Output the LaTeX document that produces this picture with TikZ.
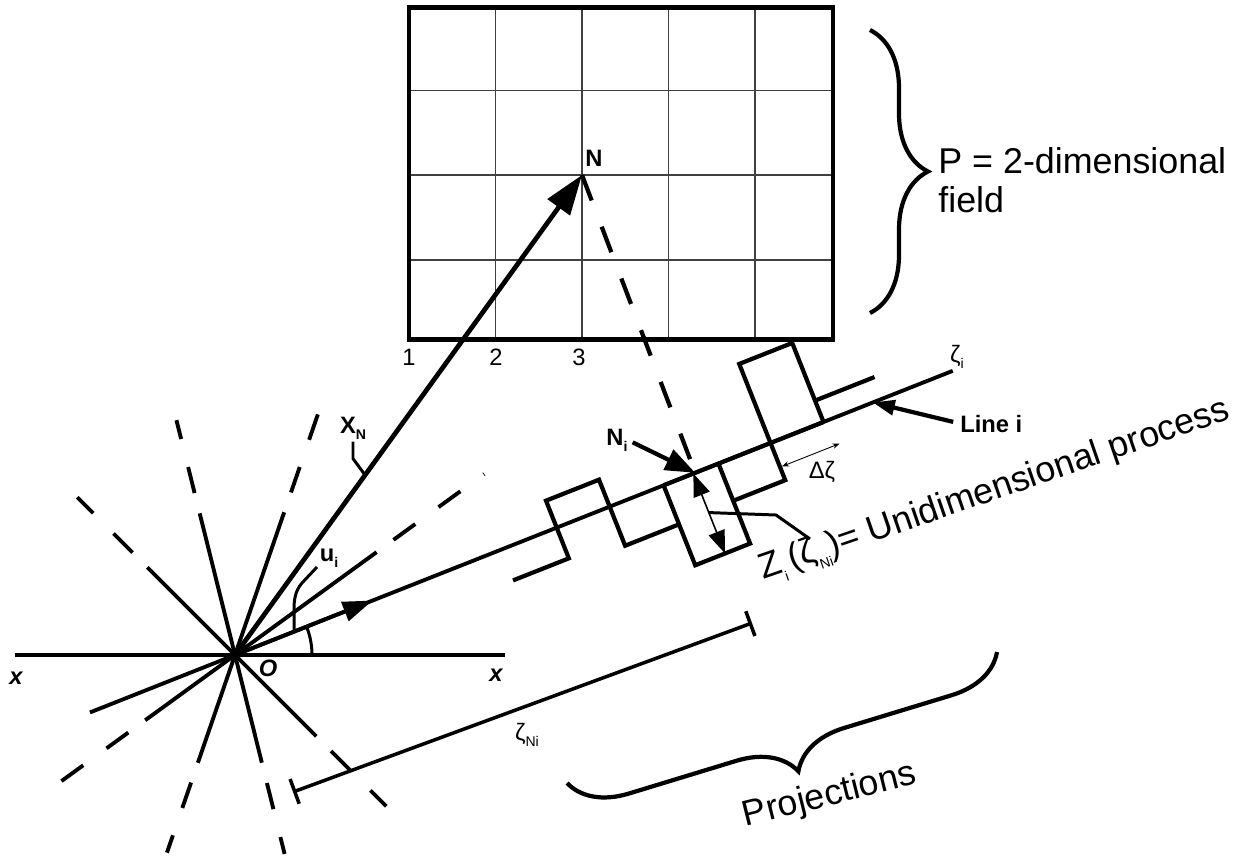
\documentclass[tikz,border=0pt]{standalone}
\usepackage{fontspec}
\setmainfont{Liberation Sans}
\usetikzlibrary{arrows.meta,decorations.pathreplacing,calc}
\newcommand{\bigsize}{\fontsize{20.4}{22}\selectfont}
\newcommand{\smallsize}{\fontsize{13.5}{15}\selectfont}
\newcommand{\lowsub}[1]{\raisebox{-0.5ex}{\fontsize{8}{9}\selectfont #1}}

\begin{document}
\begin{tikzpicture}[x=0.02cm, y=0.02cm,
    ray/.style={line width=2.2pt},
    raydash/.style={line width=2.2pt, dash pattern=on 15.3pt off 16.4pt, dash phase=19.8pt},
    stair/.style={line width=2.4pt, line join=miter},
    lbl/.style={inner sep=0pt, font=\smallsize},
    lblb/.style={inner sep=0pt, font=\smallsize\bfseries},
    lbli/.style={inner sep=0pt, font=\smallsize\bfseries\itshape},
    big/.style={inner sep=0pt, font=\bigsize}]
  \useasboundingbox (0,0) rectangle (1247,-856);
  % 2-dimensional field
  \foreach \gx in {495.5,582,668.5,755}
    \draw[line width=0.6pt, black!75] (\gx,-7.5) -- (\gx,-339.5);
  \foreach \gy in {90.7,175,260}
    \draw[line width=0.6pt, black!75] (409,-\gy) -- (833,-\gy);
  \draw[line width=2.4pt] (409,-7.5) rectangle (833,-339.5);
  \node[lbl] (c1) at (409,-357) {1};
  \node[lbl] (c2) at (496,-357) {2};
  \node[lbl] (c3) at (579,-357) {3};
  \coordinate (O) at (235,-655);
  \coordinate (N) at (582,-175);
  \node[lblb] (nlbl) at (594,-158) {N};
  \draw[line width=2.4pt, decorate, decoration={brace, amplitude=33pt}] (870,-30) -- (870,-313);
  \node[big, anchor=base west, align=left] (fieldlbl) at (938,-212) {P = 2-dimensional\\field};
  % lines through O
  \draw[ray] (15,-655) -- (505,-655);
  \node[lbli] (xl) at (16,-678) {x};
  \node[lbli] (xr) at (496,-675) {x};
  \node[lbli] (olbl) at (268,-668) {O};
  \foreach \ang/\rp/\rpe/\rn/\rne in {36/175/308/111/242, 71/151/259/114/209,
      104/146/242/111/205, 135/124/223/115/214} {
    \pgfmathsetmacro\bng{\ang+180}
    \draw[ray] ($(O)+(\bng:\rn)$) -- ($(O)+(\ang:\rp)$);
    \draw[raydash] ($(O)+(\ang:\rp)$) -- ($(O)+(\ang:\rpe)$);
    \draw[raydash] ($(O)+(\bng:\rn)$) -- ($(O)+(\bng:\rne)$);
  }
  % line i and the process
  \begin{scope}[shift={(O)}, rotate=21.6]
    \coordinate (linestart) at (-156,0);
    \coordinate (lineend) at (772,0);
    \coordinate (uarrow) at (148,0);
    \coordinate (uipt) at (63.5,0);
    \coordinate (Ni) at (495,0);
    \coordinate (lineipt) at (686,0);
    \coordinate (ztop) at (493,0);
    \coordinate (zbot) at (493,-86);
    \coordinate (zlead) at (493,-42);
    \coordinate (dzl) at (578,-26);
    \coordinate (dzr) at (640,-26);
    \draw[stair] (286,-33) -- (346,-33) -- (346,29) -- (403,29) -- (403,-42) -- (461,-42);
    \draw[stair] (461,0) -- (461,-86) -- (520,-86) -- (520,0);
    \draw[stair] (461,0) -- (633,0);
    \draw[stair] (520,-40) -- (576,-40) -- (576,85) -- (633,85) -- (633,0);
    \draw[stair] (633,23) -- (697,23);
  \end{scope}
  \draw[ray] (linestart) -- (lineend);
  \draw[ray, -{Triangle[length=17pt,width=11.3pt]}] (O) -- (uarrow);
  \node[lbl] (zetai) at (957,-357) {ζ\lowsub{i}};
  \draw[line width=1.7pt] ($(O)+(77,0)$) arc[start angle=0, end angle=21.6, radius=77];
  \node[lblb] (uilbl) at (329,-558) {u\lowsub{i}};
  \draw[line width=1.7pt] (317,-567) -- (302,-583) .. controls (295,-591) and (294,-600) .. (294,-610) -- (uipt);
  % vector to N and its projection
  \draw[line width=2.7pt, -{Triangle[length=22.7pt,width=15.3pt]}] (O) -- (N);
  \coordinate (xnpt) at ($(O)!0.375!(N)$);
  \node[lblb] (xnlbl) at (353,-428) {X\lowsub{N}};
  \draw[line width=1.7pt] (xnlbl.south) ++(0,-2) -- ++(0,-17) -- (xnpt);
  \draw[line width=2.4pt, dash pattern=on 15.5pt off 16pt] (N) -- (Ni);
  \node[lblb] (nilbl) at (617,-440) {N\lowsub{i}};
  \draw[line width=2.4pt, shorten <=3pt, -{Triangle[length=17pt,width=12.5pt]}] (nilbl.east) -- (Ni);
  \node[lblb, anchor=base west] (linelbl) at (960,-432) {Line i};
  \draw[line width=2.4pt, shorten <=4pt, -{Triangle[length=12.5pt,width=8.5pt]}] (linelbl.west) -- (lineipt);
  \draw[line width=0.9pt, {Triangle[length=13pt,width=9.6pt]}-{Triangle[length=13pt,width=9.6pt]}] (ztop) -- (zbot);
  \draw[line width=0.5pt, {Stealth[length=4pt,width=3pt]}-{Stealth[length=4pt,width=3pt]}] (dzl) -- (dzr);
  \node[lbl] (dzlbl) at (822,-472) {Δζ};
  \node[big, anchor=base west, rotate=19] (zlbl) at (763,-580) {Z\lowsub{i}\,(ζ\lowsub{Ni})= Unidimensional process};
  \draw[line width=1.7pt] (zlead) -- (776,-515) -- (810,-539);
  % projections
  \coordinate (za) at (293,-792);
  \coordinate (zb) at (752,-623);
  \draw[line width=2pt, {Bar[width=15pt]}-{Bar[width=15pt]}] (za) -- (zb);
  \node[lbl] (znilbl) at (527,-735) {ζ\lowsub{Ni}};
  \draw[line width=2.4pt, decorate, decoration={brace, amplitude=32pt}] (997,-652) -- (567,-783);
  \node[big, anchor=base, rotate=14] (projlbl) at (832,-805) {Projections};
\end{tikzpicture}
\end{document}
